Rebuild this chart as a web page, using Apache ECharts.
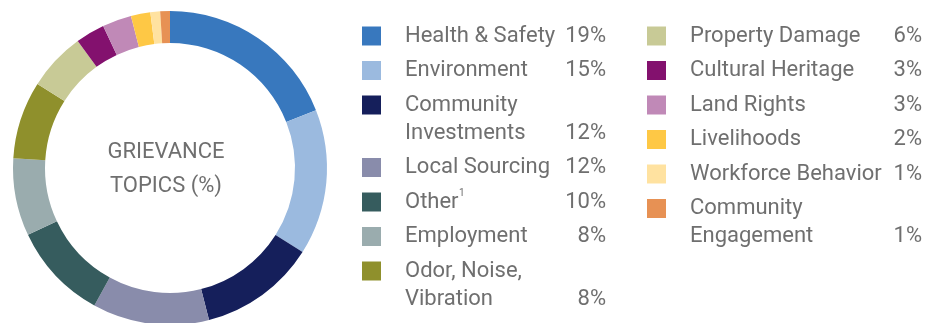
<!DOCTYPE html>
<html>
<head>
<meta charset="utf-8">
<script src="https://cdn.jsdelivr.net/npm/echarts@6/dist/echarts.min.js"></script>
<style>
  html, body { margin: 0; padding: 0; background: #ffffff; }
  #chart { width: 926px; height: 323px; }
</style>
</head>
<body>
<div id="chart"></div>
<script>
// Grievance topics, share of all grievances (%)
const topics = [
  'Health & Safety', 'Environment', 'Community Investments', 'Local Sourcing',
  'Other', 'Employment', 'Odor, Noise, Vibration', 'Property Damage',
  'Cultural Heritage', 'Land Rights', 'Livelihoods', 'Workforce Behavior',
  'Community Engagement'
];
const shares = [19, 15, 12, 12, 10, 8, 8, 6, 3, 3, 2, 1, 1];
const colors = [
  '#3878be', '#9bbadf', '#151f5b', '#898cab', '#365c5e', '#9aacae', '#8f902c',
  '#c8ca96', '#83116e', '#c089b7', '#fec845', '#ffe2a0', '#e79154'
];
// Legend names broken over two lines, and footnote markers
const legendLines = {
  'Community Investments': ['Community', 'Investments'],
  'Odor, Noise, Vibration': ['Odor, Noise,', 'Vibration'],
  'Community Engagement': ['Community', 'Engagement']
};
const footnotes = { 'Other': '1' };
const leftColumn = topics.slice(0, 7);
const rightColumn = topics.slice(7);

const textGrey = '#6f6f6f';
const fontFamily = 'Roboto, "Noto Sans", sans-serif';
const fontSize = 22;
const lineH = 28;

// width of a name in the legend font, used to place footnote markers
const measureCtx = document.createElement('canvas').getContext('2d');
measureCtx.font = fontSize + 'px ' + fontFamily;
function textWidth(s) { return Math.ceil(measureCtx.measureText(s).width); }

function buildRich(nameWidth, pctWidth) {
  const rich = {
    n: { fontSize, fontFamily, color: textGrey, width: nameWidth, lineHeight: lineH, padding: [0, 0, 0, 24] },
    p: { fontSize, fontFamily, color: textGrey, width: pctWidth, align: 'right', lineHeight: lineH },
    b: { width: 19, height: 19, lineHeight: lineH }
  };
  Object.keys(footnotes).forEach((name, k) => {
    const w = textWidth(name);
    rich['f' + k] = { fontSize, fontFamily, color: textGrey, width: w, lineHeight: lineH, padding: [0, 0, 0, 24] };
    rich['sup' + k] = { fontSize: 10, fontFamily, color: textGrey, width: nameWidth - w, lineHeight: 17, verticalAlign: 'top' };
  });
  colors.forEach((c, i) => {
    rich['s' + i] = { width: 19, height: 19, backgroundColor: c, lineHeight: lineH };
  });
  return rich;
}

function legendFormatter(name) {
  const i = topics.indexOf(name);
  const pct = shares[i] + '%';
  if (footnotes[name] != null) {
    const k = Object.keys(footnotes).indexOf(name);
    return '{s' + i + '|}{f' + k + '|' + name + '}{sup' + k + '|' + footnotes[name] + '}{p|' + pct + '}';
  }
  const lines = legendLines[name] || [name];
  if (lines.length === 1) {
    return '{s' + i + '|}{n|' + lines[0] + '}{p|' + pct + '}';
  }
  return '{s' + i + '|}{n|' + lines[0] + '}{p|}\n{b|}{n|' + lines[1] + '}{p|' + pct + '}';
}

function makeLegend(data, left, nameWidth, pctWidth) {
  return {
    orient: 'vertical',
    left: left,
    top: 22,
    height: 400,
    padding: 0,
    itemGap: 6.5,
    itemWidth: 0,
    itemHeight: 0,
    icon: 'rect',
    selectedMode: false,
    data: data,
    formatter: legendFormatter,
    textStyle: { rich: buildRich(nameWidth, pctWidth), fontSize, fontFamily, color: textGrey, lineHeight: lineH }
  };
}

const chart = echarts.init(document.getElementById('chart'), null, { renderer: 'canvas' });
chart.setOption({
  animation: false,
  color: colors,
  legend: [
    makeLegend(leftColumn, 357, 154, 47),
    makeLegend(rightColumn, 642, 190, 42)
  ],
  graphic: [{
    type: 'text',
    x: 166,
    y: 169.5,
    style: {
      text: 'GRIEVANCE\nTOPICS (%)',
      align: 'center',
      verticalAlign: 'middle',
      fontSize,
      fontFamily,
      fill: textGrey,
      lineHeight: 34
    }
  }],
  series: [{
    type: 'pie',
    center: [170, 168],
    radius: [125, 157],
    startAngle: 90,
    clockwise: true,
    label: { show: false },
    labelLine: { show: false },
    emphasis: { disabled: true },
    itemStyle: { borderWidth: 0 },
    data: topics.map((t, i) => ({ name: t, value: shares[i] }))
  }]
});
</script>
</body>
</html>
